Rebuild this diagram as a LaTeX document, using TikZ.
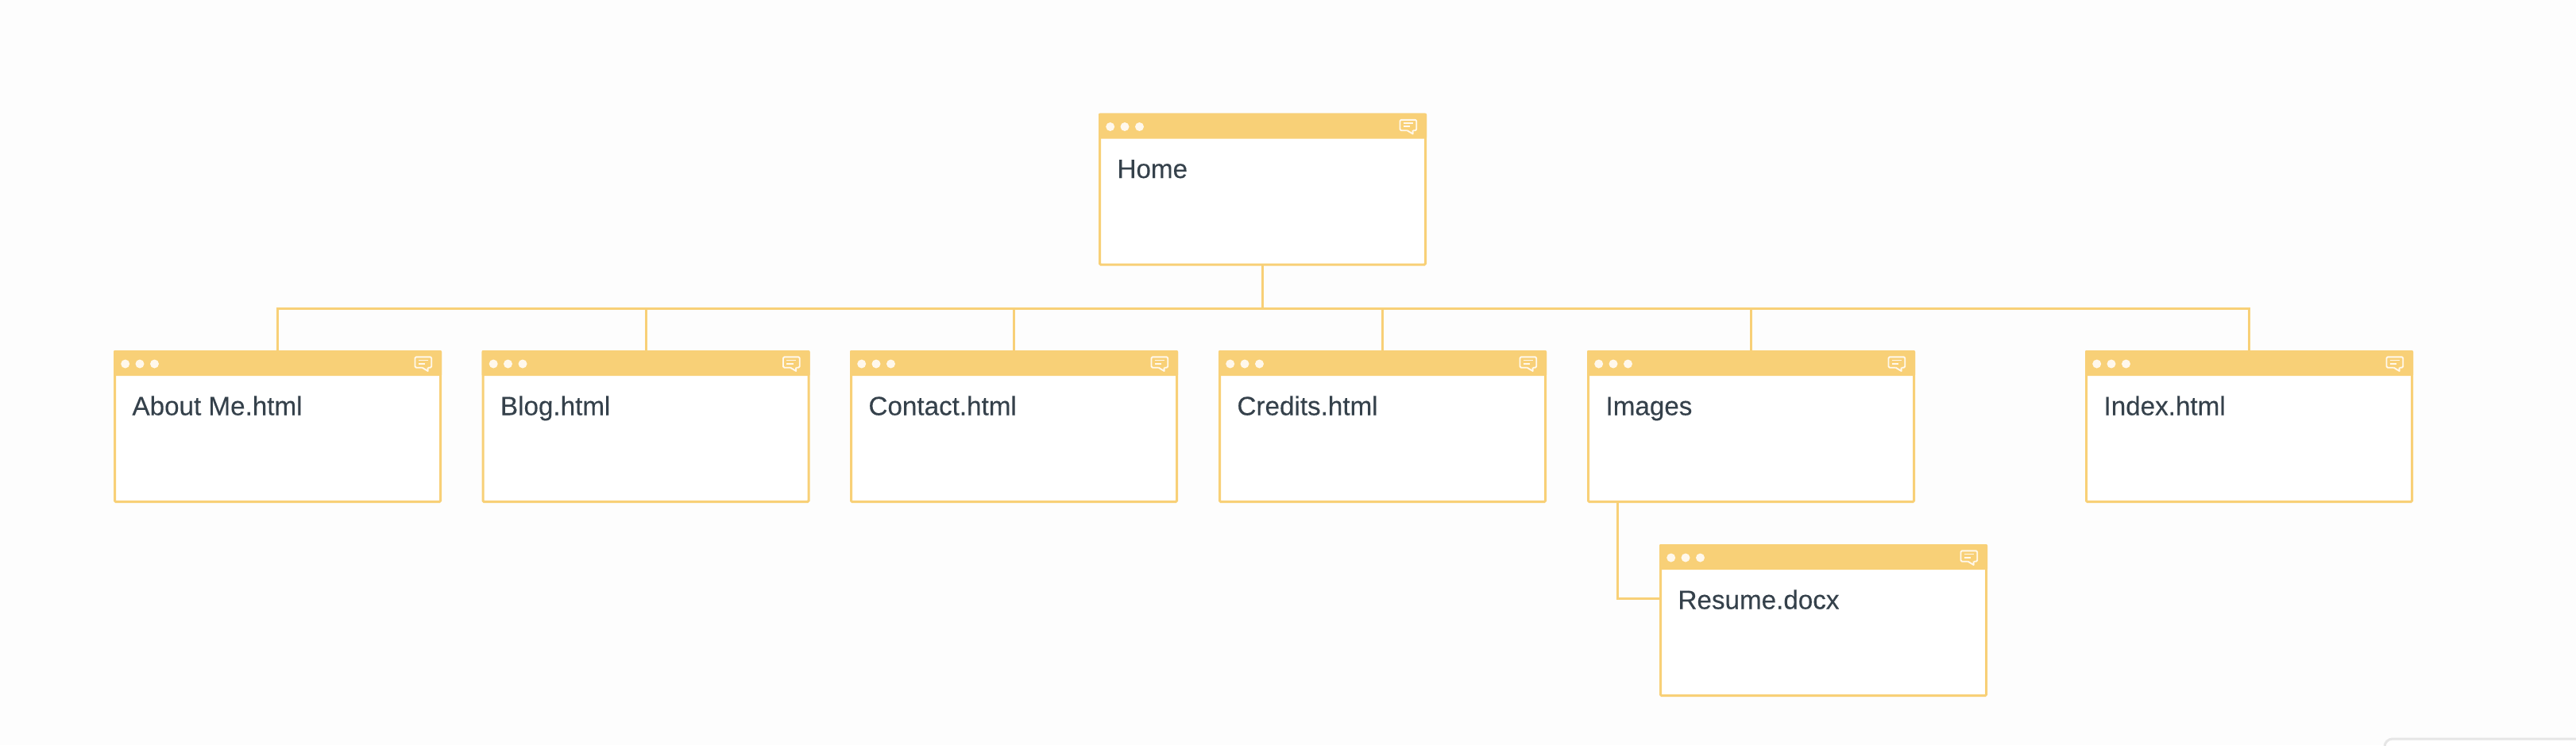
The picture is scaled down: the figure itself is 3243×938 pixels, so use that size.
\documentclass[tikz,border=0pt]{standalone}
\usepackage{fontspec}
\setmainfont{Liberation Sans}
\newfontfamily\pagefont[FakeBold=0.2]{Liberation Sans}
\definecolor{amberline}{HTML}{F8D077}
\definecolor{inktext}{HTML}{35414B}
\definecolor{paper}{HTML}{FDFDFD}
\definecolor{dotwhite}{HTML}{FFF8EC}
\definecolor{panelgrey}{HTML}{E6E6E6}
\tikzset{
  x=0.5pt,y=-0.5pt,
  pagebody/.style={draw=amberline,fill=white,line width=1.5pt,rounded corners=0.6pt,inner sep=0pt,outer sep=0pt,minimum width=205pt,minimum height=94.5pt,anchor=north west},
  pagetitle/.style={anchor=base west,inner sep=0pt,outer sep=0pt,text=inktext,font=\pagefont\fontsize{16.6}{19}\selectfont},
  link/.style={draw=amberline,line width=1.5pt,line join=miter},
  headband/.style={fill=amberline,rounded corners=0.6pt},
  winDot/.style={fill=dotwhite,draw=none},
  iconline/.style={draw=dotwhite,line width=0.95pt,line join=round}
}
\newcommand{\sitepage}[4]{%
  \begin{scope}[shift={(#2,#3)}]
    \node[pagebody] (#1) at (1.5,1.5) {};
    \fill[headband] (0,0) rectangle (413,32);
    \fill[winDot] (14.7,17) circle (5.5) (33,17) circle (5.5) (51.5,17) circle (5.5);
    \draw[iconline,rounded corners=0.7pt] (388.5,21.7) -- (379.5,21.7) -- (379.5,8.3) -- (400.2,8.3) -- (400.2,21.7) -- (395.8,21.7);
    \draw[iconline] (388.5,21.7) -- (395.6,26) -- (395.6,21.7);
    \draw[iconline] (383.7,12.5) -- (395.7,12.5) (383.7,16.8) -- (392,16.8);
    \node[pagetitle] (#1-label) at (23.5,81.5) {#4};
  \end{scope}%
}
\begin{document}
\begin{tikzpicture}
  \fill[paper] (0,0) rectangle (3243,938);
  \useasboundingbox (0,0) rectangle (3243,938);
  \begin{scope}
    \clip (0,0) rectangle (3243,938);
    \draw[panelgrey,fill=white,line width=1.5pt,rounded corners=5pt] (3002,930) rectangle (3300,1000);
  \end{scope}
  \sitepage{home}{1383}{142.5}{Home}
  \sitepage{about}{143}{441}{About Me.html}
  \sitepage{blog}{606.5}{441}{Blog.html}
  \sitepage{contact}{1070}{441}{Contact.html}
  \sitepage{credits}{1534}{441}{Credits.html}
  \sitepage{images}{1998}{441}{Images}
  \sitepage{index}{2625}{441}{Index.html}
  \sitepage{resume}{2089}{685}{Resume.docx}
  \coordinate (bus) at (home.south |- 0,388);
  \draw[link] (home.south) -- (bus);
  \draw[link] (about.north) |- (bus);
  \draw[link] (blog.north) -- (blog.north |- bus);
  \draw[link] (contact.north) -- (contact.north |- bus);
  \draw[link] (credits.north) -- (credits.north |- bus);
  \draw[link] (images.north) -- (images.north |- bus);
  \draw[link] (index.north) |- (bus);
  \coordinate (imgdrop) at ([xshift=18.5pt]images.south west);
  \coordinate (resin) at ([yshift=-33.25pt]resume.north west);
  \draw[link] (imgdrop) |- (resin);
\end{tikzpicture}
\end{document}
